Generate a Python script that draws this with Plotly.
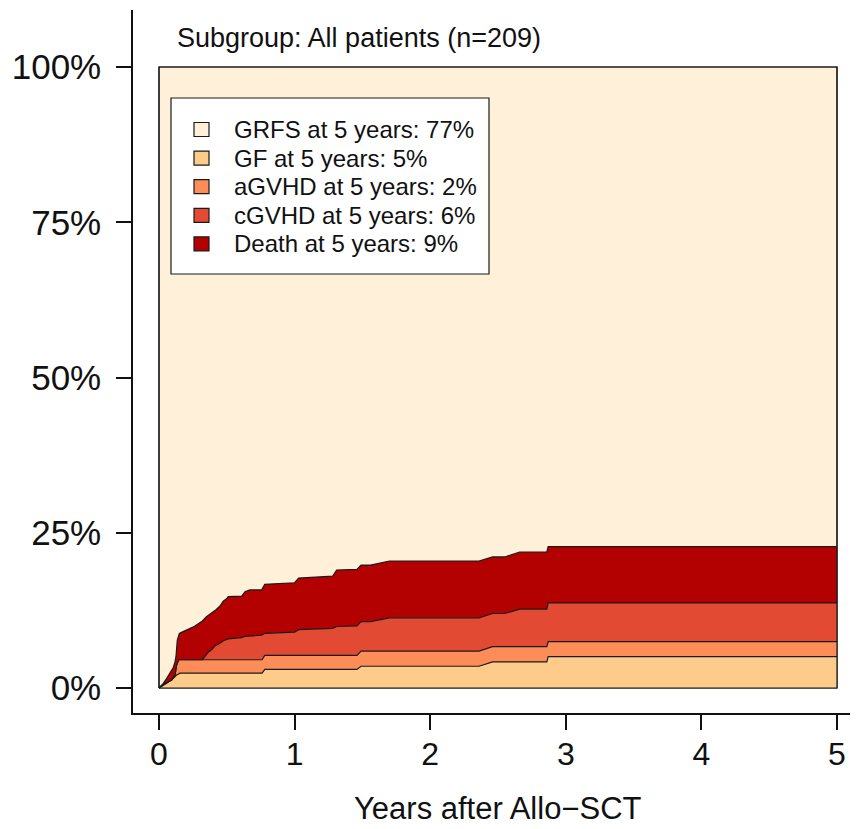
import plotly.graph_objects as go

# ---------------- data ----------------
# cumulative stacked curves (fraction of patients), x = years after Allo-SCT
gf_t = [0, 0.057, 0.105, 0.13, 0.155, 0.76, 0.78, 1.46, 1.49, 2.36, 2.46, 2.86, 2.87, 5.0]
gf_v = [0, 0.0075, 0.0155, 0.021, 0.024, 0.024, 0.030, 0.030, 0.035, 0.035, 0.042, 0.042, 0.0505, 0.0505]

agvhd_t = [0, 0.044, 0.094, 0.118, 0.13, 0.145, 0.76, 0.78, 1.46, 1.49, 2.36, 2.46, 2.86, 2.87, 5.0]
agvhd_v = [0, 0.0075, 0.013, 0.021, 0.037, 0.0455, 0.0455, 0.0525, 0.0525, 0.0595, 0.0595, 0.0665,
           0.0665, 0.0746, 0.0746]

cgvhd_t = [0, 0.044, 0.094, 0.118, 0.13, 0.145, 0.32, 0.345, 0.365, 0.39, 0.413, 0.45, 0.475, 0.51,
           0.61, 0.63, 0.757, 0.78, 1.0, 1.03, 1.28, 1.31, 1.46, 1.49, 1.56, 1.70, 2.36, 2.46, 2.55,
           2.66, 2.86, 2.87, 5.0]
cgvhd_v = [0, 0.0075, 0.013, 0.021, 0.037, 0.0455, 0.0455, 0.052, 0.058, 0.062, 0.068, 0.072, 0.076,
           0.079, 0.081, 0.083, 0.085, 0.088, 0.090, 0.094, 0.096, 0.099, 0.100, 0.107, 0.107, 0.113,
           0.113, 0.120, 0.120, 0.127, 0.127, 0.137, 0.137]

death_t = [0, 0.03, 0.057, 0.08, 0.094, 0.105, 0.118, 0.125, 0.135, 0.15, 0.17, 0.19, 0.21, 0.23,
           0.25, 0.265, 0.28, 0.30, 0.32, 0.35, 0.37, 0.40, 0.42, 0.45, 0.474, 0.50, 0.51, 0.61,
           0.634, 0.67, 0.757, 0.78, 1.0, 1.03, 1.28, 1.31, 1.46, 1.49, 1.56, 1.70, 2.36, 2.46,
           2.55, 2.66, 2.86, 2.87, 5.0]
death_v = [0, 0.007, 0.0155, 0.024, 0.030, 0.033, 0.042, 0.050, 0.077, 0.088, 0.090, 0.092, 0.093,
           0.095, 0.098, 0.100, 0.102, 0.106, 0.108, 0.115, 0.118, 0.123, 0.126, 0.132, 0.140, 0.144,
           0.147, 0.148, 0.155, 0.158, 0.158, 0.167, 0.1695, 0.177, 0.180, 0.190, 0.191, 0.198,
           0.198, 0.2045, 0.2045, 0.211, 0.211, 0.219, 0.219, 0.2275, 0.2275]

legend_labels = ["GRFS at 5 years: 77%", "GF at 5 years: 5%", "aGVHD at 5 years: 2%",
                 "cGVHD at 5 years: 6%", "Death at 5 years: 9%"]
x_ticks = [0, 1, 2, 3, 4, 5]
y_ticks = [0, 0.25, 0.5, 0.75, 1.0]
y_ticklabels = ["0%", "25%", "50%", "75%", "100%"]
subtitle = "Subgroup: All patients (n=209)"
x_title = "Years after Allo\u2212SCT"
t_max = 5

# ---------------- styling ----------------
colors = ["#FEF0D9", "#FDCC8A", "#FC8D59", "#E34A33", "#B30000"]
FONT = "Liberation Sans, Arial, sans-serif"
LINE = dict(color="#1a1a1a", width=1.2)
OFF = 8  # page body margin in the browser

fig = go.Figure()

# GRFS background rectangle
fig.add_trace(go.Scatter(x=[0, t_max, t_max, 0, 0], y=[0, 0, 1, 1, 0], mode="lines",
                         fill="toself", fillcolor=colors[0], line=LINE,
                         hoverinfo="skip", showlegend=False))

layers = [(gf_t, gf_v), (agvhd_t, agvhd_v), (cgvhd_t, cgvhd_v), (death_t, death_v)]
for i, (t, v) in enumerate(layers):
    fig.add_trace(go.Scatter(x=t, y=v, mode="lines", line=LINE,
                             fill="tozeroy" if i == 0 else "tonexty",
                             fillcolor=colors[i + 1], showlegend=False))

# outline on top
fig.add_trace(go.Scatter(x=[0, t_max, t_max, 0, 0], y=[0, 0, 1, 1, 0], mode="lines",
                         line=LINE, hoverinfo="skip", showlegend=False))

# ---------------- custom legend ----------------
# pixel helpers in screen pixels (data x 0->159px, 5->837px; y 0->688px, 1->67px)
px_per_x = (837 - 159) / 5.0
px_per_y = (688 - 67) / 1.0
def dx(px):
    return (px - 159) / px_per_x
def dy(py):
    return (688 - py) / px_per_y

shapes = [dict(type="rect", xref="x", yref="y", x0=dx(171), x1=dx(489), y0=dy(274), y1=dy(98),
               fillcolor="white", line=dict(color="#1a1a1a", width=1.2), layer="above")]
annotations = []
row0, step = 129.5, 28.6
for k, lab in enumerate(legend_labels):
    cy = row0 + k * step
    shapes.append(dict(type="rect", xref="x", yref="y", x0=dx(194), x1=dx(209),
                       y0=dy(cy + 7), y1=dy(cy - 7), fillcolor=colors[k],
                       line=dict(color="#1a1a1a", width=1.2), layer="above"))
    annotations.append(dict(x=dx(232), y=dy(cy), xref="x", yref="y", text=lab, showarrow=False,
                            xanchor="left", yanchor="middle",
                            font=dict(family=FONT, size=24, color="#111")))

annotations.append(dict(x=dx(175), y=dy(38), xref="x", yref="y", text=subtitle, showarrow=False,
                        xanchor="left", yanchor="middle",
                        font=dict(family=FONT, size=27, color="#111")))
annotations.append(dict(x=2.5, y=-(808 - 713) / 703.0, xref="x", yref="paper", text=x_title,
                        showarrow=False, xanchor="center", yanchor="middle",
                        font=dict(family=FONT, size=31, color="#111")))

fig.update_layout(
    width=858 - OFF, height=829 - OFF,
    margin=dict(l=133 - OFF, r=0, t=10 - OFF, b=116, pad=0),
    paper_bgcolor="white", plot_bgcolor="white",
    shapes=shapes, annotations=annotations,
    showlegend=False,
    font=dict(family=FONT, color="#111"),
)
fig.update_xaxes(range=[dx(133), dx(858)], tickvals=x_ticks, ticktext=[str(x) for x in x_ticks],
                 showline=True, linecolor="#111", linewidth=1.5, ticks="outside", ticklen=15,
                 tickwidth=1.5, tickcolor="#111", showgrid=False, zeroline=False,
                 tickfont=dict(family=FONT, size=32, color="#111"), ticklabelstandoff=-3)
fig.update_yaxes(range=[dy(713), dy(10)], tickvals=y_ticks, ticktext=y_ticklabels,
                 showline=True, linecolor="#111", linewidth=1.5, ticks="outside", ticklen=15,
                 tickwidth=1.5, tickcolor="#111", showgrid=False, zeroline=False,
                 tickfont=dict(family=FONT, size=35, color="#111"), ticklabelstandoff=8)

fig.write_html("out.html")
